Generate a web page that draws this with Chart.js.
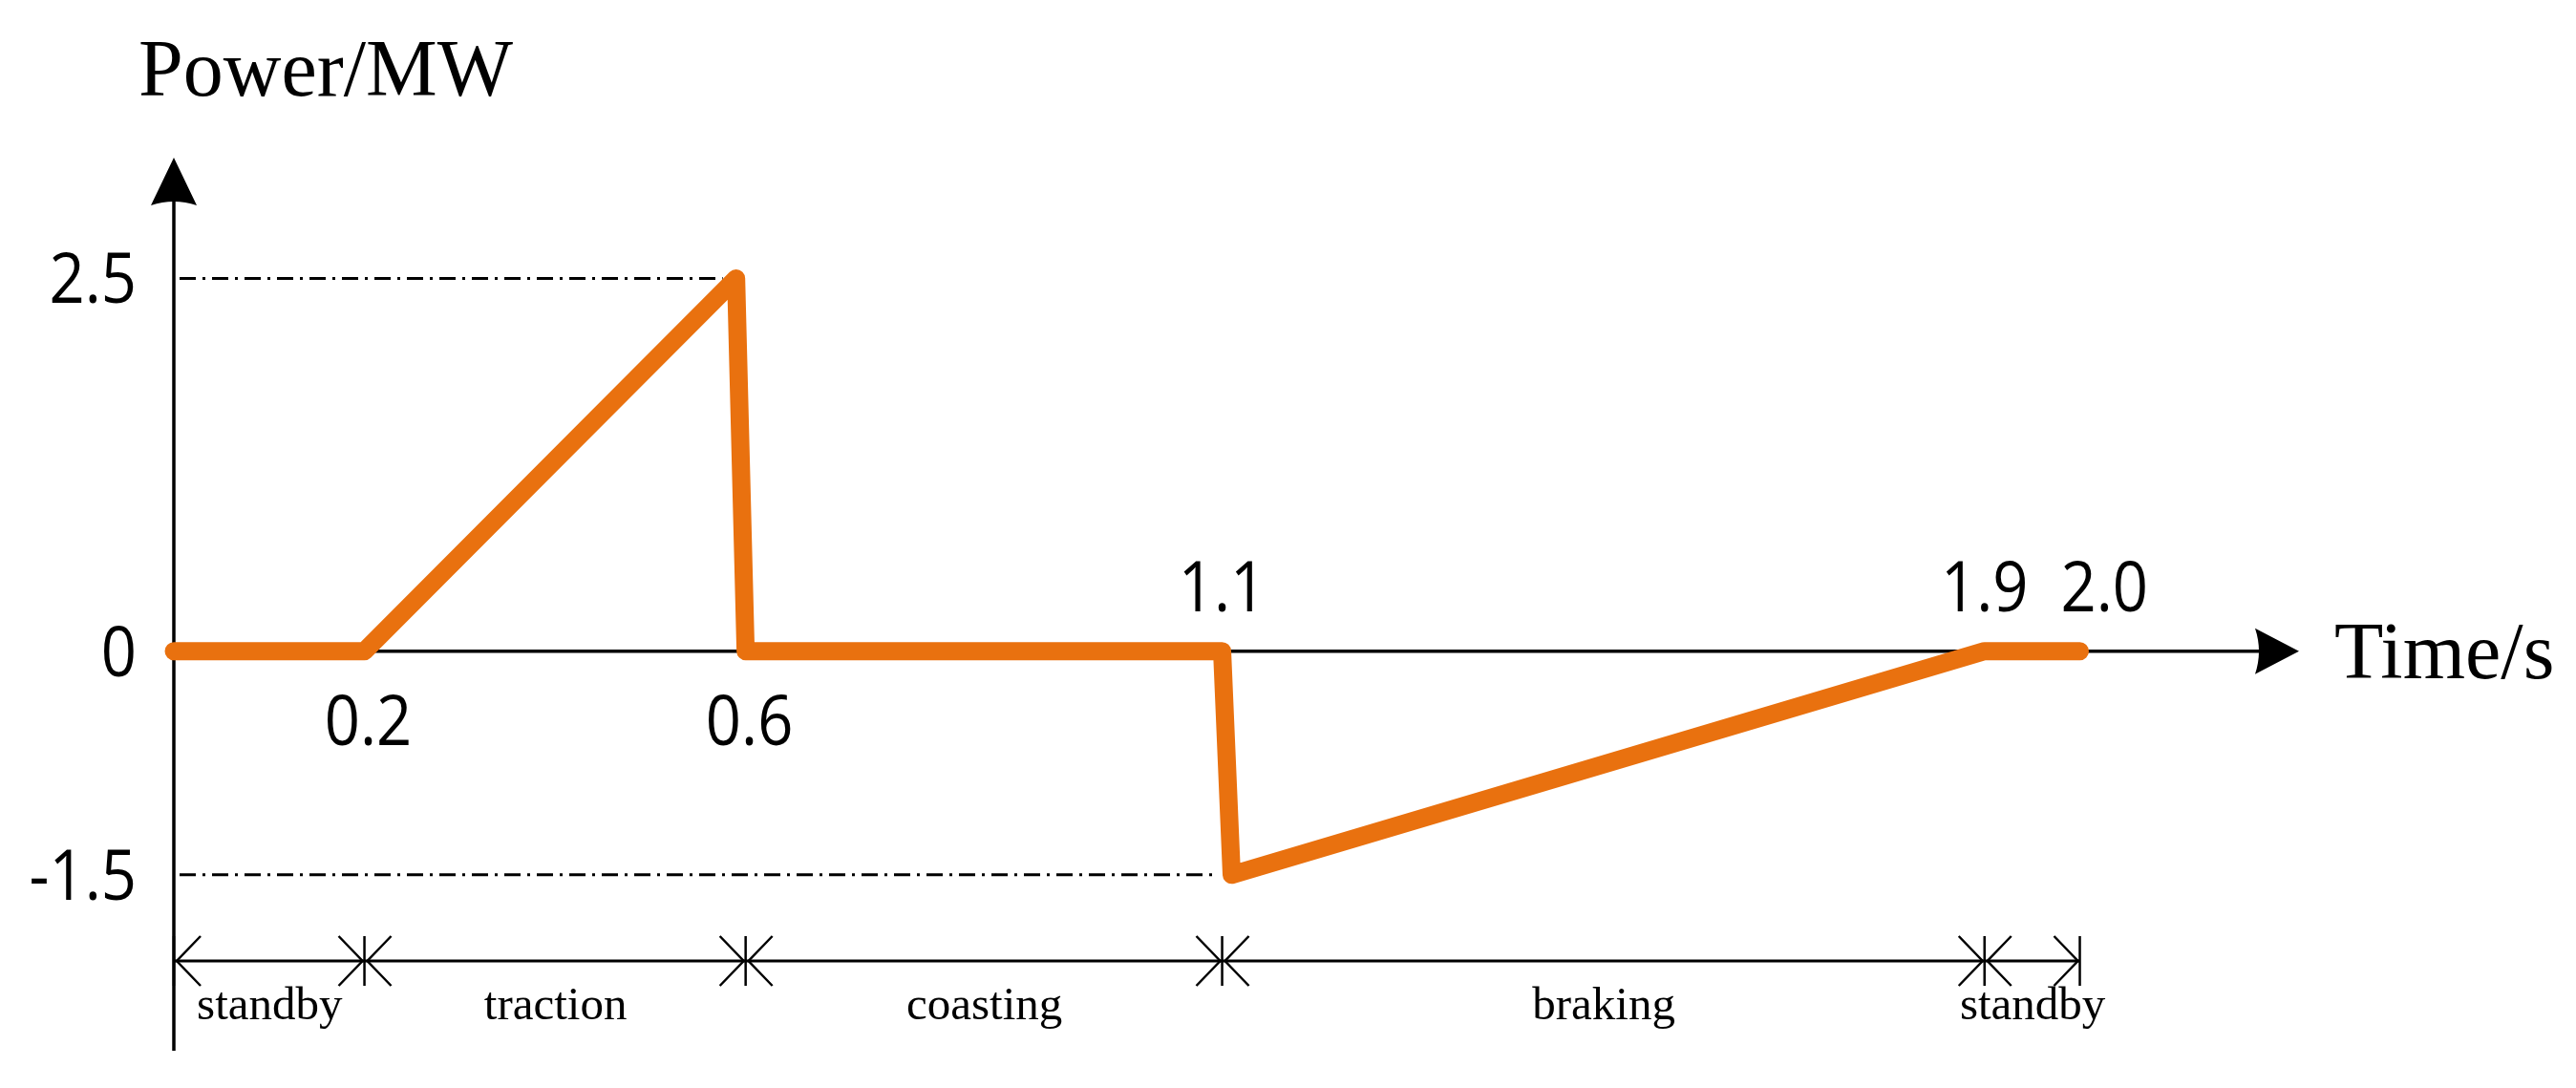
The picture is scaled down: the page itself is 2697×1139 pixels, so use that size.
<!DOCTYPE html>
<html>
<head>
<meta charset="utf-8">
<script src="https://cdn.jsdelivr.net/npm/chart.js@4.4.1/dist/chart.umd.min.js"></script>
<style>
  html, body { margin: 0; padding: 0; background: #fff; }
  #wrap { width: 2697px; height: 1139px; }
</style>
</head>
<body>
<div id="wrap"><canvas id="powerChart" width="2697" height="1139"></canvas></div>
<script>
// power profile of one operating cycle
const timeS   = [0, 0.2, 0.59, 0.6, 1.1, 1.11, 1.9, 2.0];
const powerMW = [0, 0,   2.5,  0,   0,   -1.5, 0,   0];

// phase brackets under the plot
const phaseBounds = [0, 0.2, 0.6, 1.1, 1.9, 2.0];
const phaseNames  = ['standby', 'traction', 'coasting', 'braking', 'standby'];

// tick labels
const xTickValues = [0.2, 0.6, 1.1, 1.9, 2.0];
const xTickLabels = ['0.2', '0.6', '1.1', '1.9', '2.0'];
const yTickValues = [2.5, 0, -1.5];
const yTickLabels = ['2.5', '0', '-1.5'];

// levels marked with dash-dot guide lines
const refLevels = [2.5, -1.5];

const numFont = '74px "Open Sans"';
const serifBig = '84px "Liberation Serif"';
const serifSmall = '49px "Liberation Serif"';

function arrowHead(ctx, tx, ty, dx, dy, len, half, notch) {
    let px = -dy, py = dx;
    let bx = tx - dx * len, by = ty - dy * len;
    ctx.beginPath();
    ctx.moveTo(tx, ty);
    ctx.lineTo(bx + px * half, by + py * half);
    ctx.quadraticCurveTo(tx - dx * (len - notch), ty - dy * (len - notch), bx - px * half, by - py * half);
    ctx.closePath();
    ctx.fill();
}

// numbers in the original are a narrow sans, so squeeze them a bit
function narrowText(ctx, text, px, py, align) {
    const sx = 0.88;
    let w = ctx.measureText(text).width * sx;
    let left = align === 'right' ? px - w : align === 'center' ? px - w / 2 : px;
    ctx.save();
    ctx.textAlign = 'left';
    ctx.translate(left, py);
    ctx.scale(sx, 1);
    ctx.fillText(text, 0, 0);
    ctx.restore();
}

const diagram = {
    id: 'diagram',
    beforeDatasetsDraw(chart) {
        const ctx = chart.ctx;
        const a = chart.chartArea;
        const x = chart.scales.x, y = chart.scales.y;
        const x0 = x.getPixelForValue(0);
        const y0 = y.getPixelForValue(0);
        ctx.save();
        ctx.strokeStyle = '#000';
        ctx.fillStyle = '#000';

        // dash-dot guides from the axis to the extreme points
        ctx.lineWidth = 3;
        ctx.setLineDash([17, 7, 3, 7]);
        refLevels.forEach(v => {
            let i = powerMW.indexOf(v);
            let yy = y.getPixelForValue(v);
            ctx.beginPath();
            ctx.moveTo(x0 + 6, yy);
            ctx.lineTo(x.getPixelForValue(timeS[i]) - 14, yy);
            ctx.stroke();
        });
        ctx.setLineDash([]);

        // axes with arrows
        ctx.lineWidth = 3.5;
        ctx.beginPath();
        ctx.moveTo(x0, a.bottom);
        ctx.lineTo(x0, a.top + 40);
        ctx.stroke();
        ctx.beginPath();
        ctx.moveTo(x0, y0);
        ctx.lineTo(a.right - 38, y0);
        ctx.stroke();
        arrowHead(ctx, x0, a.top, 0, -1, 50, 24, 8);
        arrowHead(ctx, a.right, y0, 1, 0, 46, 24, 8);
        ctx.restore();
    },
    afterDatasetsDraw(chart) {
        const ctx = chart.ctx;
        const a = chart.chartArea;
        const x = chart.scales.x, y = chart.scales.y;
        const x0 = x.getPixelForValue(0);
        const y0 = y.getPixelForValue(0);
        ctx.save();
        ctx.fillStyle = '#000';
        ctx.strokeStyle = '#000';

        // y tick labels
        ctx.font = numFont;
        ctx.textBaseline = 'alphabetic';
        yTickValues.forEach((v, i) => {
            narrowText(ctx, yTickLabels[i], x0 - 39, y.getPixelForValue(v) + 26, 'right');
        });

        // x tick labels: put them on the side away from the curve
        xTickValues.forEach((v, i) => {
            let k = timeS.indexOf(v);
            let neigh = [powerMW[k - 1], powerMW[k + 1]].filter(p => p !== undefined);
            let below = neigh.some(p => p > 0) && !neigh.some(p => p < 0);
            let px = x.getPixelForValue(v);
            let last = i === xTickValues.length - 1;
            if (last) px -= 20;
            narrowText(ctx, xTickLabels[i], below ? px + 4 : px, below ? y0 + 98 : y0 - 42, last ? 'left' : 'center');
        });

        // axis titles
        ctx.font = serifBig;
        ctx.textAlign = 'left';
        ctx.fillText('Power/MW', 145, 100);
        ctx.fillText('Time/s', a.right + 37, y0 + 28);

        // phase brackets
        const by = 1006, th = 26, cw = 25;
        ctx.lineWidth = 3;
        let first = x.getPixelForValue(phaseBounds[0]);
        let lastB = x.getPixelForValue(phaseBounds[phaseBounds.length - 1]);
        ctx.beginPath();
        ctx.moveTo(first, by);
        ctx.lineTo(lastB, by);
        ctx.stroke();
        ctx.lineWidth = 2.5;
        phaseBounds.forEach(b => {
            let bx = x.getPixelForValue(b);
            ctx.beginPath();
            ctx.moveTo(bx, by - th);
            ctx.lineTo(bx, by + th);
            ctx.stroke();
        });
        ctx.font = serifSmall;
        ctx.textAlign = 'center';
        for (let i = 0; i < phaseNames.length; i++) {
            let s = x.getPixelForValue(phaseBounds[i]) + 3;
            let e = x.getPixelForValue(phaseBounds[i + 1]) - 2;
            ctx.beginPath();
            ctx.moveTo(s + cw, by - th);
            ctx.lineTo(s, by);
            ctx.lineTo(s + cw, by + th);
            ctx.moveTo(e - cw, by - th);
            ctx.lineTo(e, by);
            ctx.lineTo(e - cw, by + th);
            ctx.stroke();
            ctx.fillText(phaseNames[i], (s + e) / 2, 1067);
        }
        ctx.restore();
    }
};

const points = timeS.map((t, i) => ({ x: t, y: powerMW[i] }));

new Chart(document.getElementById('powerChart'), {
    type: 'line',
    data: {
        datasets: [{
            data: points,
            borderColor: 'rgb(233,113,15)',
            borderWidth: 19,
            borderCapStyle: 'round',
            borderJoinStyle: 'round',
            pointRadius: 0,
            tension: 0,
            clip: false
        }]
    },
    options: {
        responsive: false,
        devicePixelRatio: 1,
        animation: false,
        events: [],
        layout: { padding: { left: 182, right: 290, top: 165, bottom: 39 } },
        plugins: { legend: { display: false }, tooltip: { enabled: false } },
        scales: {
            x: { type: 'linear', min: 0, max: 2.23, display: false },
            y: { type: 'linear', min: -2.68, max: 3.31, display: false }
        }
    },
    plugins: [diagram]
});
</script>
</body>
</html>
